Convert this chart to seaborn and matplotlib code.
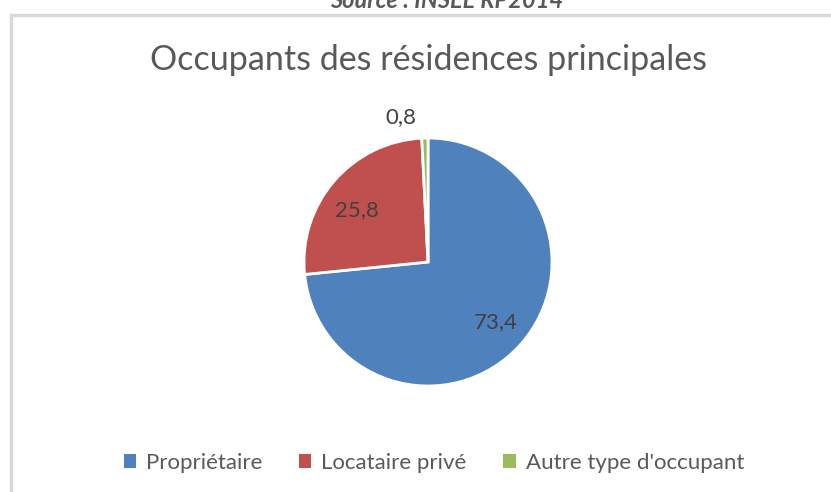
import matplotlib
matplotlib.use("Agg")
import matplotlib.pyplot as plt
from matplotlib.patches import Rectangle
import numpy as np
import seaborn as sns

categories = ["Propriétaire", "Locataire privé", "Autre type d'occupant"]
values = [73.4, 25.8, 0.8]
value_labels = ["73,4", "25,8", "0,8"]
title = "Occupants des résidences principales"
source = "Source : INSEE RP2014"

colors = ["#4F81BD", "#C0504D", "#9BBB59"]
label_dist = [0.73, 0.71, 1.19]
label_angle_shift = [0.7, 4.5, 9]

sns.set_theme(style="white")
plt.rcParams['font.family'] = ['Lato', 'DejaVu Sans']

W, H = 831, 492
fig = plt.figure(figsize=(W / 100, H / 100), dpi=100)
fig.patch.set_facecolor("white")

# frame
fig.patches.append(Rectangle((11 / W, -0.1), 1.2, (H - 15) / H + 0.1,
                             transform=fig.transFigure, fill=False,
                             edgecolor="#d9d9d9", linewidth=2.5))

fig.text(447 / W, 1 - 1 / H, source, ha="center", va="center",
         fontsize=17, fontstyle="italic", fontweight="bold", color="#595959")
fig.text(428 / W, 1 - 60 / H, title, ha="center", va="center",
         fontsize=24.5, color="#595959")

cx, cy, r = 428, 262, 124
ax = fig.add_axes([(cx - r) / W, (H - cy - r) / H, 2 * r / W, 2 * r / H])
wedges, _ = ax.pie(values, colors=colors, startangle=90, counterclock=False,
                   radius=1, wedgeprops=dict(edgecolor="white", linewidth=2))
for w, lab, d, sh in zip(wedges, value_labels, label_dist, label_angle_shift):
    ang = np.deg2rad((w.theta1 + w.theta2) / 2 + sh)
    ax.text(d * np.cos(ang), d * np.sin(ang), lab, ha="center", va="center",
            fontsize=16, color="#404040")
ax.set_xlim(-1, 1)
ax.set_ylim(-1, 1)
ax.set_aspect("equal")
ax.axis("off")

leg = fig.legend(wedges, categories, loc="center", ncol=3,
                 bbox_to_anchor=(434 / W, 1 - 463 / H), frameon=False,
                 fontsize=16, handlelength=0.55, handleheight=0.55,
                 handletextpad=0.45, columnspacing=1.65, labelcolor="#595959")
for h in leg.legend_handles:
    h.set_edgecolor("none")

fig.savefig("out.png", dpi=100)
